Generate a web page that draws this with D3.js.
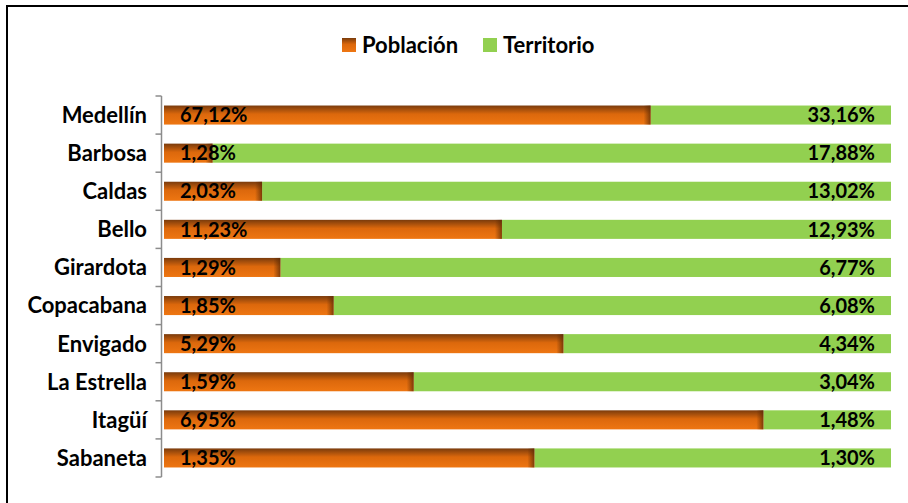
<!DOCTYPE html>
<html>
<head>
<meta charset="utf-8">
<script src="https://cdn.jsdelivr.net/npm/d3@7"></script>
<style>
  body { margin: 0; background: #fff; }
  text { font-family: Lato, "Open Sans", sans-serif; font-weight: bold; }
</style>
</head>
<body>
<div id="chart"></div>
<script>
var municipios = ["Medellín", "Barbosa", "Caldas", "Bello", "Girardota", "Copacabana",
                  "Envigado", "La Estrella", "Itagüí", "Sabaneta"];
var poblacion = [67.12, 1.28, 2.03, 11.23, 1.29, 1.85, 5.29, 1.59, 6.95, 1.35];
var territorio = [33.16, 17.88, 13.02, 12.93, 6.77, 6.08, 4.34, 3.04, 1.48, 1.30];
var series = ["Población", "Territorio"];

var width = 908, height = 503;
var margin = {top: 96, right: 17, bottom: 26, left: 164};

var svg = d3.select("#chart").append("svg")
    .attr("width", width)
    .attr("height", height);

// frame (only top and left are visible in the picture)
svg.append("rect")
    .attr("x", 7).attr("y", 6)
    .attr("width", 960).attr("height", 560)
    .attr("fill", "none")
    .attr("stroke", "#000")
    .attr("stroke-width", 2);

var defs = svg.append("defs");
var grad = defs.append("linearGradient")
    .attr("id", "orangeGrad")
    .attr("x1", 0).attr("y1", 0).attr("x2", 0).attr("y2", 1);
grad.append("stop").attr("offset", "0%").attr("stop-color", "#7a3b0c");
grad.append("stop").attr("offset", "45%").attr("stop-color", "#dc680c");
grad.append("stop").attr("offset", "100%").attr("stop-color", "#ee7612");

var edge = defs.append("linearGradient")
    .attr("id", "edgeGrad")
    .attr("x1", 0).attr("y1", 0).attr("x2", 1).attr("y2", 0);
edge.append("stop").attr("offset", "0%").attr("stop-color", "#5a2a05").attr("stop-opacity", 0);
edge.append("stop").attr("offset", "100%").attr("stop-color", "#5a2a05").attr("stop-opacity", 0.75);

var rows = municipios.map(function(m, i) {
    var total = poblacion[i] + territorio[i];
    return {name: m, pob: poblacion[i], ter: territorio[i], share: poblacion[i] / total};
});

var x = d3.scaleLinear()
    .domain([0, 1])
    .range([margin.left, width - margin.right]);

var y = d3.scaleBand()
    .domain(municipios)
    .range([margin.top, height - margin.bottom])
    .paddingInner(0.5)
    .paddingOuter(0.25);

var fmt = function(v) { return d3.format(".2f")(v).replace(".", ",") + "%"; };

// axis line with ticks between categories
var axisX = margin.left - 2.5;
var step = y.step();
var y0 = y.range()[0], y1 = y.range()[1];
svg.append("line")
    .attr("x1", axisX).attr("x2", axisX)
    .attr("y1", y0).attr("y2", y1)
    .attr("stroke", "#8c8c8c").attr("stroke-width", 1.5);
svg.selectAll(".tick")
    .data(d3.range(municipios.length + 1))
    .enter().append("line")
    .attr("class", "tick")
    .attr("x1", axisX - 6).attr("x2", axisX)
    .attr("y1", function(i) { return y0 + i * step; })
    .attr("y2", function(i) { return y0 + i * step; })
    .attr("stroke", "#8c8c8c").attr("stroke-width", 1.5);

var bar = svg.selectAll(".bar")
    .data(rows)
    .enter().append("g")
    .attr("class", "bar");

bar.append("rect")
    .attr("x", function(d) { return x(d.share); })
    .attr("y", function(d) { return y(d.name); })
    .attr("width", function(d) { return x(1) - x(d.share); })
    .attr("height", y.bandwidth())
    .attr("fill", "#92d050");

bar.append("rect")
    .attr("x", x(0))
    .attr("y", function(d) { return y(d.name); })
    .attr("width", function(d) { return x(d.share) - x(0); })
    .attr("height", y.bandwidth())
    .attr("fill", "url(#orangeGrad)");

bar.append("rect")
    .attr("x", function(d) { return x(d.share) - 7; })
    .attr("y", function(d) { return y(d.name); })
    .attr("width", 7)
    .attr("height", y.bandwidth())
    .attr("fill", "url(#edgeGrad)");

bar.append("text")
    .attr("x", x(0) + 16)
    .attr("y", function(d) { return y(d.name) + y.bandwidth() / 2; })
    .attr("dy", "0.36em")
    .style("font-size", "20px")
    .attr("fill", "#000")
    .text(function(d) { return fmt(d.pob); });

bar.append("text")
    .attr("x", x(1) - 16)
    .attr("y", function(d) { return y(d.name) + y.bandwidth() / 2; })
    .attr("dy", "0.36em")
    .attr("text-anchor", "end")
    .style("font-size", "20px")
    .attr("fill", "#000")
    .text(function(d) { return fmt(d.ter); });

svg.selectAll(".cat")
    .data(municipios)
    .enter().append("text")
    .attr("class", "cat")
    .attr("x", 147)
    .attr("y", function(d) { return y(d) + y.bandwidth() / 2; })
    .attr("dy", "0.36em")
    .attr("text-anchor", "end")
    .style("font-size", "22px")
    .attr("fill", "#000")
    .text(function(d) { return d; });

// legend
var legendX = [342, 483];
var legend = svg.selectAll(".legend")
    .data(series)
    .enter().append("g")
    .attr("class", "legend")
    .attr("transform", function(d, i) { return "translate(" + legendX[i] + ",38)"; });

legend.append("rect")
    .attr("width", 14).attr("height", 14)
    .attr("fill", function(d, i) { return i == 0 ? "url(#orangeGrad)" : "#92d050"; });

legend.append("text")
    .attr("x", 20)
    .attr("y", 7)
    .attr("dy", "0.36em")
    .style("font-size", "22px")
    .text(function(d) { return d; });
</script>
</body>
</html>
